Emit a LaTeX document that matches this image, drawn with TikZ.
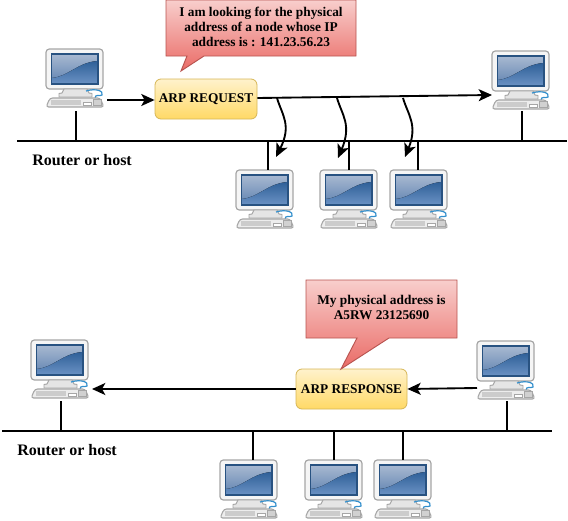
\documentclass[tikz,border=0pt]{standalone}
\usepackage{fontspec}
\setmainfont{Liberation Serif}
\usetikzlibrary{arrows.meta}
\definecolor{scrdark}{HTML}{2F6098}
\definecolor{scrlight}{HTML}{A8B9D1}
\definecolor{scrmid}{HTML}{5F82B0}
\definecolor{scrglow}{HTML}{6B92C4}
\definecolor{frameline}{HTML}{A6A6A6}
\definecolor{msgtop}{HTML}{FFF2CC}
\definecolor{msgbottom}{HTML}{FFD966}
\definecolor{msgline}{HTML}{D6B656}
\definecolor{notetop}{HTML}{F8CECC}
\definecolor{notebottom}{HTML}{EA6B66}
\definecolor{noteline}{HTML}{B85450}
\tikzset{
    wire/.style={line width=1.2pt,black},
    sendarrow/.style={line width=1.4pt,-{Stealth[length=10pt,width=9pt,inset=2.5pt]}},
    msgbox/.style={draw=msgline,top color=msgtop,bottom color=msgbottom,line width=.6pt,rounded corners=4.5pt,minimum height=30pt,inner sep=0pt,font=\fontsize{10}{12}\selectfont\bfseries},
    notebox/.style={draw=noteline,top color=notetop,bottom color=notebottom,line width=.7pt},
    notetext/.style={align=center,inner sep=0pt,font=\fontsize{10}{11.25}\selectfont\bfseries},
    hostlabel/.style={inner sep=0pt,font=\fontsize{12}{14}\selectfont\bfseries},
    computer/.pic={
        % monitor
        \draw[frameline,line width=.9pt,fill=white!96!black,rounded corners=2.5pt] (0,0) rectangle (57,40);
        \fill[top color=scrlight,bottom color=scrmid] (5.5,5) rectangle (52,35);
        \fill[top color=scrdark,bottom color=scrglow] (5.5,35) -- (5.5,29) .. controls (22,28) and (32,13) .. (52,12) -- (52,35) -- cycle;
        \draw[scrdark!85!black,line width=.8pt] (5.5,5) rectangle (52,35);
        % stand
        \draw[frameline,line width=.7pt,fill=white!90!black] (18,40) -- (16,44) -- (13,44.5) -- (13,48) -- (46,48) -- (46,44.5) -- (43,44) -- (41,40) -- cycle;
        \draw[blue!40!cyan!60!gray,line width=.9pt] (40,42) .. controls (50,39) and (58,42) .. (56,46) .. controls (53,48) and (49,44) .. (49,50);
        % keyboard
        \draw[frameline,line width=.8pt,fill=white!93!black,rounded corners=2pt] (4,49) -- (54,49) -- (58,58) -- (0,58) -- cycle;
        \fill[white!80!black] (5,50.5) rectangle (35,56);
        \draw[frameline,line width=.5pt,fill=white] (37,53.5) rectangle (45,56.5);
        \draw[frameline,line width=.5pt,fill=white!82!black] (47,50) rectangle (55,56.5);
    }
}
\begin{document}
\begin{tikzpicture}[x=0.75pt,y=-0.75pt]
    \useasboundingbox (0,0) rectangle (568,521);
    % upper network
    \pic (srcA) at (46,49) {computer};
    \pic (dstA) at (492,51) {computer};
    \pic (hostA) at (236,170) {computer};
    \pic (hostB) at (320,170) {computer};
    \pic (hostC) at (390,170) {computer};
    \coordinate (busAl) at (17,141);
    \coordinate (busAr) at (567,141);
    \draw[wire] (busAl) -- (busAr);
    \coordinate (srcAbus) at (76,141);
    \coordinate (srcAfoot) at (76,111);
    \coordinate (dstAbus) at (522,141);
    \coordinate (dstAfoot) at (522,111);
    \coordinate (hostAbus) at (268,141);
    \coordinate (hostBbus) at (349,141);
    \coordinate (hostCbus) at (418,141);
    \coordinate (hostAtop) at (268,170);
    \coordinate (hostBtop) at (349,170);
    \coordinate (hostCtop) at (418,170);
    \draw[wire] (srcAfoot) -- (srcAbus);
    \draw[wire] (dstAfoot) -- (dstAbus);
    \draw[wire] (hostAbus) -- (hostAtop);
    \draw[wire] (hostBbus) -- (hostBtop);
    \draw[wire] (hostCbus) -- (hostCtop);
    \node[hostlabel,anchor=west] (labelA) at (32,160) {Router or host};
    \node[msgbox,minimum width=76.5pt] (request) at (206,99) {ARP REQUEST};
    \draw[notebox] (166,0) -- (356,0) -- (356,56) -- (204,56) -- (181,71) -- (187,56) -- (166,56) -- cycle;
    \node[notetext] (requestnote) at (261,27) {I am looking for the physical\\address of a node whose IP\\address is : 141.23.56.23};
    \coordinate (srcAout) at (107,100);
    \coordinate (dstAin) at (492,95);
    \draw[sendarrow] (srcAout) -- (request.west |- srcAout);
    \draw[sendarrow] (request.east |- 0,98) -- (dstAin);
    \draw[sendarrow] (277,98) .. controls (282,115) and (292,125) .. (276,157);
    \draw[sendarrow] (337,98) .. controls (342,115) and (352,125) .. (338,158);
    \draw[sendarrow] (403,98) .. controls (408,115) and (418,125) .. (405,157);
    % lower network
    \pic (srcB) at (31,340) {computer};
    \pic (dstB) at (477,341) {computer};
    \pic (hostD) at (220,460) {computer};
    \pic (hostE) at (305,460) {computer};
    \pic (hostF) at (374,460) {computer};
    \coordinate (busBl) at (2,431);
    \coordinate (busBr) at (552,431);
    \draw[wire] (busBl) -- (busBr);
    \coordinate (srcBbus) at (61,431);
    \coordinate (srcBfoot) at (61,401);
    \coordinate (dstBbus) at (507,431);
    \coordinate (dstBfoot) at (507,401);
    \coordinate (hostDbus) at (253,431);
    \coordinate (hostEbus) at (334,431);
    \coordinate (hostFbus) at (403,431);
    \coordinate (hostDtop) at (253,460);
    \coordinate (hostEtop) at (334,460);
    \coordinate (hostFtop) at (403,460);
    \draw[wire] (srcBfoot) -- (srcBbus);
    \draw[wire] (dstBfoot) -- (dstBbus);
    \draw[wire] (hostDbus) -- (hostDtop);
    \draw[wire] (hostEbus) -- (hostEtop);
    \draw[wire] (hostFbus) -- (hostFtop);
    \node[hostlabel,anchor=west] (labelB) at (17,450) {Router or host};
    \node[msgbox,minimum width=83.25pt] (response) at (351.5,389) {ARP RESPONSE};
    \draw[notebox] (306,280) -- (457,280) -- (457,338) -- (389,338) -- (341,369) -- (357,338) -- (306,338) -- cycle;
    \node[notetext] (responsenote) at (381.5,307) {My physical address is\\A5RW 23125690};
    \coordinate (srcBin) at (92,389);
    \coordinate (dstBout) at (477,388);
    \draw[sendarrow] (response.west) -- (srcBin);
    \draw[sendarrow] (dstBout) -- (response.east);
\end{tikzpicture}
\end{document}
